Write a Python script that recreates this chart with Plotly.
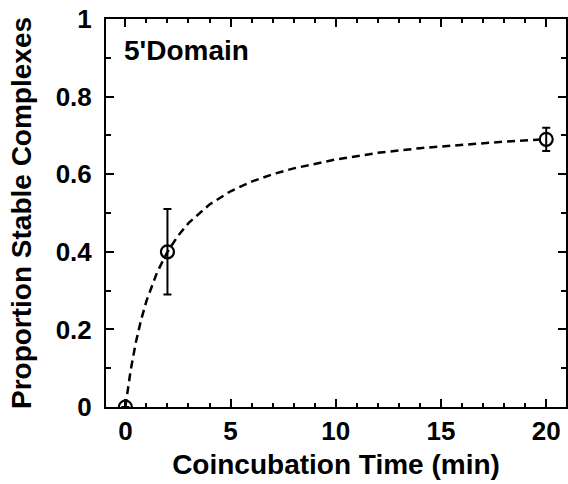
import plotly.graph_objects as go

# Measured data points
time_min = [0, 2, 20]
proportion = [0.0, 0.40, 0.69]
error = [0.0, 0.11, 0.03]

# Fitted curve
fit_x = [0, 0.25, 0.5, 0.75, 1, 1.5, 2, 2.5, 3, 4, 5, 6, 7, 8, 10, 12, 14, 16, 18, 20]
fit_y = [0, 0.094, 0.167, 0.225, 0.273, 0.346, 0.40, 0.441, 0.474, 0.522, 0.556,
         0.581, 0.60, 0.615, 0.638, 0.655, 0.667, 0.676, 0.684, 0.690]

x_tickvals = [0, 5, 10, 15, 20]
x_ticktext = ["0", "5", "10", "15", "20"]
y_tickvals = [0, 0.2, 0.4, 0.6, 0.8, 1.0]
y_ticktext = ["0", "0.2", "0.4", "0.6", "0.8", "1"]

FONT = "Liberation Sans, Arial, sans-serif"

fig = go.Figure()
fig.add_trace(go.Scatter(
    x=fit_x, y=fit_y, mode="lines",
    line=dict(color="black", width=2.5, dash="8px,5px"),
    hoverinfo="skip", showlegend=False))
fig.add_trace(go.Scatter(
    x=time_min, y=proportion, mode="markers",
    marker=dict(symbol="circle-open", size=13, color="black", line=dict(width=2.2, color="black")),
    error_y=dict(type="data", array=error, visible=True, color="black", thickness=2, width=4),
    showlegend=False))

axis_common = dict(
    showline=True, linecolor="black", linewidth=2, mirror="ticks",
    ticks="inside", tickcolor="black", tickwidth=2, ticklen=8,
    showgrid=False, zeroline=False,
    tickfont=dict(family=FONT, size=26, color="black", weight="bold"),
)

fig.update_xaxes(
    range=[-0.92, 20.94], tickvals=x_tickvals, ticktext=x_ticktext,
    minor=dict(dtick=1, ticks="inside", ticklen=4, tickwidth=2, tickcolor="black", showgrid=False),
    title=dict(text="Coincubation Time (min)", font=dict(family=FONT, size=28, color="black", weight="bold"), standoff=9),
    **axis_common)
fig.update_yaxes(
    range=[0, 1], tickvals=y_tickvals, ticktext=y_ticktext, ticklabelstandoff=7,
    minor=dict(dtick=0.1, ticks="inside", ticklen=5, tickwidth=2, tickcolor="black", showgrid=False),
    title=dict(text="Proportion Stable Complexes", font=dict(family=FONT, size=28, color="black", weight="bold"), standoff=16),
    **axis_common)

fig.add_annotation(
    text="5'Domain", xref="paper", yref="paper", x=0.035, y=0.92,
    xanchor="left", yanchor="middle", showarrow=False,
    font=dict(family=FONT, size=28, color="black", weight="bold"))

fig.update_layout(
    width=568, height=484,
    margin=dict(l=106, r=0, t=19, b=77),
    paper_bgcolor="white", plot_bgcolor="white",
)

fig.write_html("out.html", config={"displayModeBar": False},
               post_script="document.body.style.margin='0';document.body.style.padding='0';")
